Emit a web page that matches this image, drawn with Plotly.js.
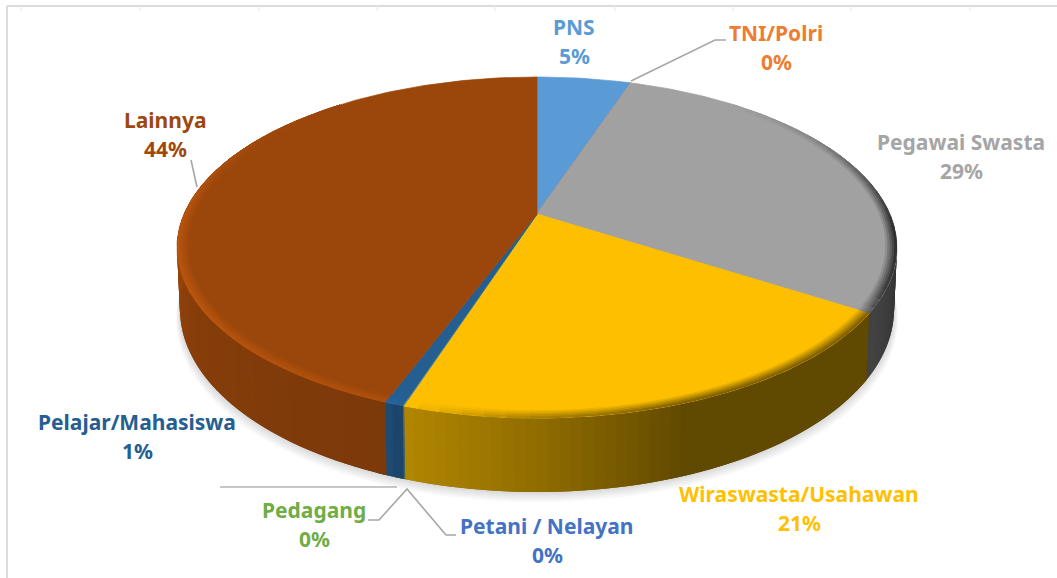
<!DOCTYPE html>
<html>
<head>
<meta charset="utf-8">
<script src="https://cdn.plot.ly/plotly-3.0.1.min.js"></script>
<style>html,body{margin:0;padding:0;background:#fff}#chart{width:1057px;height:578px}</style>
</head>
<body>
<div id="chart"></div>
<script>
// ---- data (clockwise from 12 o'clock) ----
const categories = ["PNS","TNI/Polri","Pegawai Swasta","Wiraswasta/Usahawan","Petani / Nelayan","Pedagang","Pelajar/Mahasiswa","Lainnya"];
const shares = [5.1,0.02,28.98,20.85,0.02,0.03,0.7,44.3];
const colors = ["#5B9BD5","#ED7D31","#A1A1A1","#FDBF00","#4472C4","#70AD47","#255E91","#9B470C"];
const labelColors = ["#5B9BD5","#ED7D31","#A5A5A5","#FFC000","#4472C4","#70AD47","#255E91","#9E480E"];
const labelX = [574,776,961,799,547,314,137,165];
const labelY = [27,33,142,494,526,510,422,120];
const labelGap = 29;
const tickXs = [21,140,259,377,495,615,733,851,970];
const leaders = [
  {p:[[631,81],[715,40],[726,40]],c:"#a6a6a6"},
  {p:[[191,160],[197,187]],c:"#a6a6a6"},
  {p:[[368,520],[379,520],[407,489],[446,535],[456,535]],c:"#a6a6a6"},
  {p:[[220,487],[397,487]],c:"#b5b5b5"}
];
// ---- perspective of the disc ----
const CX=537, K=353, P=-0.1965, A=121.9, B=214;
function topPt(t,r){const rad=t*Math.PI/180,u=r*Math.sin(rad),v=-r*Math.cos(rad),d=1+P*v;
  return [CX+K*u/d,(A*v+B)/d,v];}
function botPt(t,grow,dy){const p=topPt(t,1),g=grow||1;
  return [CX+(p[0]-CX)*0.992*g,p[1]+58+16*p[2]+(dy||0)];}
function table(tb,t){ if(t<=tb[0][0])return tb[0][1];
  for(let i=1;i<tb.length;i++){ if(t<=tb[i][0]){const f=(t-tb[i-1][0])/(tb[i][0]-tb[i-1][0]);return tb[i-1][1]+f*(tb[i][1]-tb[i-1][1]);} }
  return tb[tb.length-1][1];}
const wallShade=[[60,.25],[100,.3],[122,.42],[122.5,.38],[160,.38],[181,.58],[198,.7],[200,.8],[240,.86],[262,.95],[285,1.0],[300,1.0]];
const rimShade=[[40,1],[60,.82],[80,.5],[95,.25],[115,.35],[122,.6],[123,.5],[160,.5],[181,.68],[198,1.03],[201,1.12],[240,1.2],[270,1.18],[300,1.04],[320,1]];
function rgb(h){return [1,3,5].map(i=>parseInt(h.substr(i,2),16));}
function mul(c,f){return "rgb("+c.map(x=>Math.min(255,Math.round(x*f))).join(",")+")";}
const total=shares.reduce((a,b)=>a+b,0);
let acc=0; const edges=[0];
shares.forEach(s=>{acc+=s;edges.push(acc/total*360);});
function sliceAt(t){for(let i=0;i<shares.length;i++) if(t>=edges[i]&&t<edges[i+1]) return i; return shares.length-1;}
function breaks(from,to,step){const b=[];for(let t=from;t<to;t+=step)b.push(t);b.push(to);
  edges.forEach(e=>{if(e>from&&e<to)b.push(e);});return b.sort((a,b)=>a-b);}
function poly(pts,color,opacity,lw){return {type:"scatter",mode:"lines",x:pts.map(p=>p[0]).concat([pts[0][0]]),y:pts.map(p=>p[1]).concat([pts[0][1]]),
  fill:"toself",fillcolor:color,line:{color:lw===0?"rgba(0,0,0,0)":color,width:lw===undefined?0.7:lw},opacity:opacity===undefined?1:opacity,hoverinfo:"skip",showlegend:false};}
const traces=[];
// soft shadow
for(let k=6;k>=1;k--){const pts=[];for(let t=60;t<=300;t+=3){pts.push(botPt(t,1+k*0.0018,k*1.7));}
  traces.push(poly(pts,"rgb(0,0,0)",0.022,0));}
// wall: each strip runs on under the next one, so there are no seams
const wb=breaks(60,300,1.5);
for(let i=0;i<wb.length-1;i++){const a=wb[i],b=wb[i+1];if(b-a<1e-6)continue;const m=(a+b)/2,s=sliceAt(m);
  const f=table(wallShade,m),e=Math.min(b+1.5,300);const pts=[topPt(a,1),topPt(e,1),botPt(e),botPt(a)];
  traces.push(poly(pts,mul(rgb(colors[s]),f),1,0));}
// faces
categories.forEach((c,i)=>{const pts=[topPt(0,0)];const n=Math.max(2,Math.ceil(edges[i+1]-edges[i]));
  for(let j=0;j<=n;j++){pts.push(topPt(edges[i]+(edges[i+1]-edges[i])*j/n,1));}
  traces.push(poly(pts,colors[i]));});
// bevelled rim: bands stacked from the inside out, each reaching the outer edge
const rb=breaks(40,320,3), innerR=[.97,.976,.982,.988,.994];
innerR.forEach((r0,li)=>{const w=(li+0.8)/innerR.length;
  for(let i=0;i<rb.length-1;i++){const a=rb[i],b=rb[i+1];if(b-a<1e-6)continue;const m=(a+b)/2,s=sliceAt(m);
    const f=1+(table(rimShade,m)-1)*w,e=Math.min(b+3,320,edges[s+1]);
    traces.push(poly([topPt(a,r0),topPt(e,r0),topPt(e,1),topPt(a,1)],mul(rgb(colors[s]),f),1,0));}
});
// ---- labels ----
const ann=[];
const font=c=>({family:"'Noto Sans', 'Open Sans', sans-serif",size:21,color:c});
categories.forEach((c,i)=>{
  ann.push({x:labelX[i],y:labelY[i],xref:"x",yref:"y",showarrow:false,text:"<b>"+c+"</b>",font:font(labelColors[i]),xanchor:"center",yanchor:"middle"});
  ann.push({x:labelX[i],y:labelY[i]+labelGap,xref:"x",yref:"y",showarrow:false,text:"<b>"+Math.round(shares[i])+"%</b>",font:font(labelColors[i]),xanchor:"center",yanchor:"middle"});
});
// ---- frame & leaders ----
const shapes=[
 {type:"line",xref:"x",yref:"y",x0:7,x1:1057,y0:6,y1:6,line:{color:"#dcdcdc",width:2}},
 {type:"line",xref:"x",yref:"y",x0:7,x1:7,y0:6,y1:578,line:{color:"#dcdcdc",width:2}}
];
tickXs.forEach(x=>shapes.push({type:"line",xref:"x",yref:"y",x0:x,x1:x,y0:6,y1:11,line:{color:"#e8e8e8",width:1}}));
leaders.forEach(l=>shapes.push({type:"path",xref:"x",yref:"y",path:"M"+l.p.map(p=>p.join(",")).join("L"),line:{color:l.c,width:1.6},fillcolor:"rgba(0,0,0,0)"}));
const hidden={visible:false,fixedrange:true};
Plotly.newPlot("chart",traces,{
  width:1057,height:578,margin:{l:0,r:0,t:0,b:0},paper_bgcolor:"#fff",plot_bgcolor:"#fff",showlegend:false,hovermode:false,
  xaxis:Object.assign({range:[0,1057]},hidden),yaxis:Object.assign({range:[578,0]},hidden),
  annotations:ann,shapes:shapes
},{displayModeBar:false,staticPlot:true});
</script>
</body>
</html>
